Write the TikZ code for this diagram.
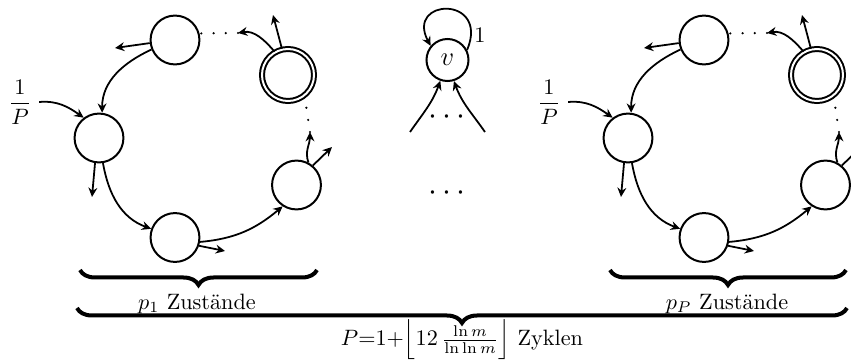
\documentclass[tikz,border=0pt]{standalone}
\usepackage{tikz}
\usetikzlibrary{arrows.meta,decorations.pathreplacing}

\begin{document}
\begin{tikzpicture}[
  x=0.45pt,y=0.45pt,
  state/.style={draw,circle,line width=0.9pt,minimum size=22pt,inner sep=0pt},
  endstate/.style={state,double,double distance=0.9pt,minimum size=23.4pt},
  arrow/.style={-{Stealth[length=4.2pt,width=4pt,inset=1.4pt]},line width=0.8pt},
  dots/.style={line width=1.1pt,line cap=round,dash pattern=on 0pt off 5.5pt},
  bracedown/.style={decorate,decoration={brace,mirror,amplitude=6.75pt},line width=1.8pt}
]
\useasboundingbox (0,0) rectangle (851,363);

% zwei Zyklen, der zweite um 529 nach rechts verschoben
\foreach \c/\dx in {a/0,b/529}{
  \begin{scope}[shift={(\dx,0)}]
  \node[state] (top-\c) at (175,323) {};
  \node[endstate] (end-\c) at (288,288) {};
  \node[state] (left-\c) at (99,225) {};
  \node[state] (bot-\c) at (175,125.5) {};
  \node[state] (right-\c) at (296.5,178) {};
  \node (prob-\c) at (20,261) {$\displaystyle\frac{1}{P}$};
  \coordinate (up-\c) at (310,231);
  \coordinate (back-\c) at (238,330);
  \coordinate (x1-\c) at (115,315);
  \coordinate (x2-\c) at (92,166);
  \coordinate (x3-\c) at (225,112);
  \coordinate (x4-\c) at (332,216);
  \coordinate (x5-\c) at (273,348);
  \draw[arrow] (prob-\c.east) to[out=5,in=145] (left-\c.127);
  \draw[arrow] (top-\c.202) to[out=205,in=90] (left-\c.83);
  \draw[arrow] (left-\c.-81) to[out=-80,in=160] (bot-\c.160);
  \draw[arrow] (bot-\c.-10) to[out=5,in=220] (right-\c.237);
  \draw[arrow] (right-\c.62) to[out=110,in=-90] (up-\c);
  \draw[dots] (up-\c) -- (end-\c.-52);
  \draw[arrow] (end-\c.120) to[out=130,in=10] (back-\c);
  \draw[dots] (back-\c) -- (top-\c.15);
  \foreach \n/\a/\e in {top/187/x1,left/261/x2,bot/-19/x3,right/50/x4,end/103/x5}
    \draw[arrow] (\n-\c.\a) -- (\e-\c);
  \end{scope}
}

% Zustand v mit Schleife
\node[state,minimum size=18.9pt,font=\large] (v) at (447.5,303) {$v$};
\draw[arrow] (v.27) .. controls (490,368) and (405,365) .. (v.140);
\node (one) at (480,328) {$1$};
\coordinate (inl) at (410,231);
\coordinate (inr) at (485,231);
\draw[arrow] (inl) to[out=55,in=250] (v.251);
\draw[arrow] (inr) to[out=125,in=-70] (v.287);
\node[font=\Large] (dotsup) at (447,246) {$\cdots$};
\node[font=\Large] (dotsdown) at (447,170) {$\cdots$};

% Klammern
\coordinate (bla) at (80,93);   \coordinate (bra) at (317,93);
\coordinate (blb) at (610,93);  \coordinate (brb) at (846,93);
\coordinate (blall) at (77,55); \coordinate (brall) at (847,55);
\draw[bracedown] (bla) -- (bra);
\draw[bracedown] (blb) -- (brb);
\draw[bracedown] (blall) -- (brall);
\node (lab-a) at (197,59) {$p_1$\ Zustände};
\node (lab-b) at (727,59) {$p_P$\ Zustände};
\node (laball) at (462,23) {$P{=}1{+}\Bigl\lfloor 12\,\frac{\ln m}{\ln\ln m}\Bigr\rfloor$\ Zyklen};
\end{tikzpicture}
\end{document}
